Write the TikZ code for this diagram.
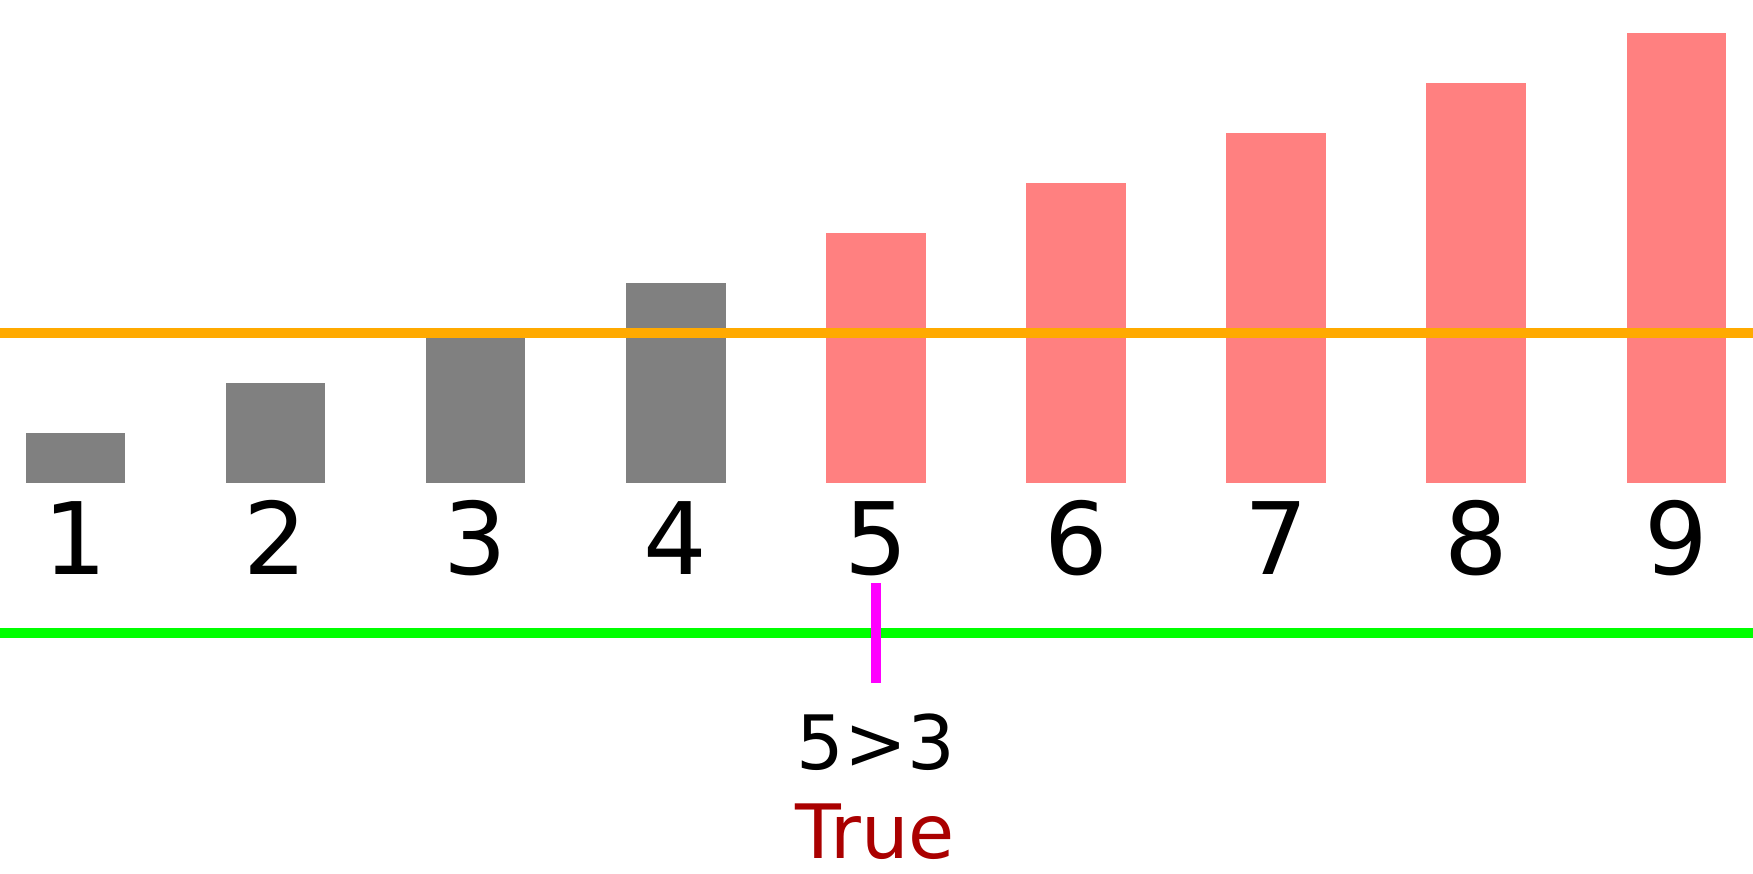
\documentclass[tikz,border=0pt]{standalone}
\usepackage{fontspec}
\setmainfont{DejaVu Sans}
\definecolor{barGray}{HTML}{808080}
\definecolor{barPink}{HTML}{FF8080}
\definecolor{lineOrange}{HTML}{FFAA00}
\definecolor{lineGreen}{HTML}{00FF00}
\definecolor{tickMagenta}{HTML}{FF00FF}
\definecolor{resRed}{HTML}{AA0000}
\begin{document}
\begin{tikzpicture}[x=1pt,y=-1pt,
  bar/.style={draw=none, inner sep=0pt, outer sep=0pt, minimum width=99.5pt, anchor=south},
  digit/.style={inner sep=0pt, anchor=base, font=\fontsize{100}{120}\selectfont},
  midtext/.style={inner sep=0pt, anchor=base, text depth=0pt, font=\fontsize{75}{90}\selectfont},
  hline/.style={line width=9.5pt, line cap=butt}]
\useasboundingbox (0,0) rectangle (1753,873);
\fill[white] (0,0) rectangle (1753,873);
\foreach \i in {1,...,4}
  \node[bar, fill=barGray, minimum height={50.05pt*\i}] (b\i) at ({75.45+200.1*(\i-1)}, 483) {};
\foreach \i in {5,...,9}
  \node[bar, fill=barPink, minimum height={50.05pt*\i}] (b\i) at ({75.45+200.1*(\i-1)}, 483) {};
\foreach \i in {1,...,9}
  \node[digit] (l\i) at ({75.45+200.1*(\i-1)}, 574) {\i};
\coordinate (oL) at (0,333);
\coordinate (oR) at (1753,333);
\draw[hline, lineOrange] (oL) -- (oR);
\coordinate (gL) at (0,633);
\coordinate (gR) at (1753,633);
\draw[hline, lineGreen] (gL) -- (gR);
\coordinate (mT) at (876,583);
\coordinate (mB) at (876,682.7);
\draw[line width=10pt, line cap=butt, tickMagenta] (mT) -- (mB);
\node[midtext] (cmp) at (876,769) {5>3};
\node[midtext, text=resRed] (res) at (875,858) {True};
\end{tikzpicture}
\end{document}
